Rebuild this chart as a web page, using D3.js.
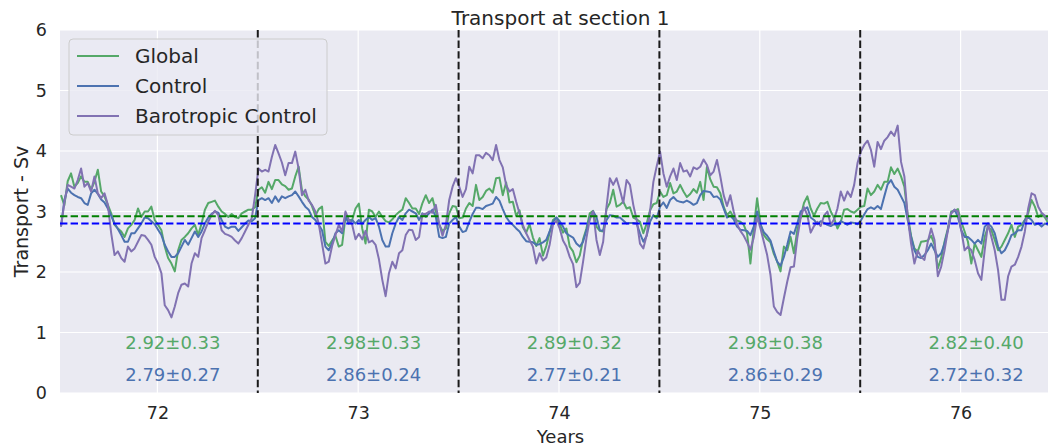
<!DOCTYPE html>
<html>
<head>
<meta charset="utf-8">
<script src="https://cdn.jsdelivr.net/npm/d3@7"></script>
<style>
  body { margin: 0; background: #fff; }
  text { font-family: "DejaVu Sans", sans-serif; fill: #262626; }
</style>
</head>
<body>
<div id="chart"></div>
<script>
// sampled every 1/60 year starting at t0
var t0 = 71.52, step = 1 / 60;

var globalV = [
  3.27,3.10,3.50,3.63,3.41,3.47,3.58,3.49,3.49,3.36,3.49,3.69,3.33,3.25,3.11,2.97,2.78,2.72,2.67,2.58,
  2.72,2.78,2.86,3.05,2.91,3.00,3.00,3.08,2.86,2.78,2.69,2.42,2.23,2.14,2.01,2.36,2.53,2.58,2.64,2.72,
  2.78,2.61,2.80,3.03,3.14,3.16,3.18,3.08,3.00,2.96,2.91,2.96,2.91,2.89,2.97,3.00,3.03,3.03,3.07,
  3.36,3.40,3.31,3.49,3.37,3.52,3.52,3.45,3.42,3.36,3.38,3.58,3.74,3.35,3.25,3.20,3.09,2.93,3.04,3.08,
  2.50,2.43,2.52,2.60,2.42,2.45,2.91,2.86,2.86,3.05,3.13,2.72,2.47,3.03,3.00,2.91,3.00,2.91,2.84,2.82,
  2.87,2.94,2.99,3.03,3.22,3.14,3.05,3.05,2.96,3.14,3.27,3.14,3.22,3.00,2.78,2.68,2.72,2.97,3.09,3.08,
  2.89,2.90,3.05,3.14,3.09,3.44,3.19,3.24,3.34,3.38,3.31,3.55,3.56,3.27,3.48,3.15,3.16,2.93,3.02,2.74,
  2.65,2.79,2.57,2.43,2.56,2.27,2.43,2.65,2.86,2.90,2.79,2.65,2.72,2.42,2.34,2.16,2.27,2.54,2.72,2.97,
  3.01,2.75,2.68,2.67,3.04,3.14,3.36,3.08,3.11,3.16,3.05,3.07,2.90,2.87,2.83,2.64,2.80,3.02,3.12,3.14,
  3.33,3.24,3.27,3.47,3.30,3.33,3.44,3.33,3.24,3.29,3.37,3.31,3.49,3.19,3.74,3.53,3.41,3.40,3.30,3.08,
  2.94,3.00,2.90,2.85,2.83,2.78,2.64,2.14,2.72,3.22,2.80,2.61,2.54,2.49,2.30,2.17,2.01,2.42,2.36,2.58,
  2.31,2.69,2.91,3.14,3.25,3.05,2.93,3.05,3.14,3.13,3.16,3.00,2.89,2.72,2.83,3.03,3.04,3.00,2.98,3.03,
  3.08,3.09,3.38,3.27,3.33,3.44,3.36,3.49,3.49,3.73,3.62,3.71,3.58,3.41,2.94,2.60,2.39,2.34,2.50,2.51,
  2.52,2.60,2.45,2.06,2.23,2.50,2.72,3.00,3.01,3.04,2.83,2.67,2.50,2.14,2.47,2.36,2.25,2.58,2.75,2.69,
  2.53,2.36,2.42,2.53,2.64,2.78,2.58,2.75,2.78,2.86,2.97,3.19,3.08,2.91,2.96,2.90,2.81
];

var controlV = [
  2.75,3.19,3.38,3.31,3.27,3.24,3.22,3.14,3.11,3.30,3.36,3.29,3.20,3.15,3.05,2.93,2.80,2.71,2.61,2.50,
  2.50,2.64,2.64,2.72,2.80,2.90,2.89,2.84,2.79,2.70,2.61,2.45,2.34,2.25,2.25,2.31,2.42,2.53,2.45,2.56,
  2.67,2.58,2.67,2.80,2.90,2.96,3.00,2.98,2.86,2.75,2.72,2.75,2.75,2.68,2.74,2.80,2.85,2.84,2.89,
  3.19,3.22,3.19,3.22,3.14,3.25,3.16,3.25,3.22,3.25,3.27,3.33,3.25,3.16,3.08,3.03,2.91,2.86,2.78,2.69,
  2.42,2.36,2.47,2.64,2.69,2.64,2.91,2.80,2.86,2.80,2.86,2.80,2.86,2.91,2.86,2.89,2.75,2.53,2.42,2.42,
  2.64,2.80,2.91,2.86,2.97,3.03,3.00,2.97,2.86,2.97,2.91,2.97,3.03,2.91,2.58,2.56,2.58,2.80,2.86,2.91,
  2.75,2.66,2.68,2.83,2.96,3.06,3.06,3.04,3.09,3.11,3.13,3.24,3.18,3.04,2.91,2.83,2.78,2.72,2.67,2.58,
  2.51,2.50,2.49,2.45,2.46,2.49,2.53,2.67,2.83,2.90,2.84,2.75,2.64,2.60,2.57,2.47,2.42,2.50,2.69,2.89,
  3.00,2.91,2.69,2.68,2.86,2.94,2.93,2.90,2.90,2.85,2.80,2.81,2.81,2.80,2.64,2.50,2.60,2.83,2.94,2.89,
  3.08,3.15,3.06,3.19,3.24,3.18,3.16,3.15,3.18,3.15,3.11,3.14,3.27,3.34,3.33,3.32,3.24,3.25,3.20,3.05,
  2.90,2.93,2.87,2.75,2.70,2.69,2.68,2.61,2.75,3.00,2.78,2.66,2.60,2.52,2.34,2.17,2.10,2.25,2.45,2.67,
  2.63,2.80,3.00,3.03,3.07,2.90,2.86,2.79,2.84,2.81,2.78,2.76,2.79,2.78,2.84,2.81,2.78,2.82,2.81,2.79,
  2.85,2.95,3.04,3.07,3.04,3.09,3.04,3.25,3.45,3.52,3.41,3.36,3.25,3.14,2.86,2.58,2.36,2.25,2.23,2.28,
  2.36,2.47,2.36,2.25,2.31,2.47,2.69,2.97,3.03,2.91,2.69,2.58,2.58,2.53,2.47,2.53,2.47,2.75,2.80,2.75,
  2.64,2.42,2.31,2.36,2.47,2.61,2.64,2.69,2.69,2.86,2.91,2.86,2.78,2.80,2.75,2.80,2.78
];

var baroV = [
  2.75,3.14,3.44,3.41,3.38,3.52,3.71,3.41,3.47,3.33,3.58,3.30,3.22,3.30,3.11,2.64,2.28,2.34,2.23,2.17,
  2.42,2.34,2.39,2.50,2.61,2.60,2.53,2.45,2.25,2.14,1.98,1.45,1.37,1.25,1.43,1.65,1.79,1.81,1.76,2.14,
  2.31,2.25,2.56,2.69,2.83,2.94,3.01,2.94,2.69,2.63,2.61,2.58,2.52,2.47,2.56,2.67,2.78,2.89,3.27,
  3.71,3.66,3.69,3.66,3.90,4.10,3.96,3.81,3.60,3.80,3.80,3.99,3.71,3.27,3.36,3.18,3.11,3.00,2.80,2.47,
  2.14,2.17,2.43,2.61,2.78,2.67,3.00,2.86,2.78,2.54,2.63,2.54,2.68,2.49,2.52,2.45,2.21,1.87,1.60,1.98,
  2.17,2.06,2.31,2.36,2.61,2.70,2.69,2.53,2.58,2.96,2.96,3.00,2.98,3.11,2.80,2.60,2.78,3.19,3.41,3.55,
  3.41,3.24,3.37,3.74,3.63,3.93,3.93,3.88,3.97,3.93,3.85,4.10,3.85,3.73,3.44,3.33,3.37,3.16,2.97,2.78,
  2.64,2.53,2.42,2.14,2.31,2.19,2.24,2.45,2.78,2.85,2.72,2.52,2.42,2.25,2.13,1.75,1.82,2.17,2.56,2.87,
  3.00,2.53,2.28,2.50,3.08,3.55,3.44,3.55,3.36,3.14,3.52,3.44,3.11,2.86,2.47,2.39,2.61,3.00,3.49,3.75,
  3.99,3.63,3.41,3.58,3.71,3.52,3.80,3.66,3.68,3.58,3.73,3.70,3.74,3.86,3.77,3.60,3.66,3.85,3.58,3.27,
  3.09,3.27,3.00,2.79,2.68,2.60,2.49,2.37,2.57,2.91,2.72,2.50,2.28,1.95,1.43,1.34,1.29,1.57,1.84,2.08,
  2.09,2.56,2.89,3.07,2.94,2.65,2.76,2.83,2.76,2.93,3.00,2.78,2.87,3.05,3.33,3.18,3.33,3.24,3.44,3.80,
  3.99,4.10,4.17,4.02,3.74,4.15,4.03,4.17,4.23,4.32,4.25,4.42,3.82,3.58,2.91,2.47,2.14,2.35,2.25,2.20,
  2.50,2.72,2.53,1.93,2.09,2.36,2.69,2.97,3.03,3.00,2.69,2.36,2.42,2.36,2.20,1.98,1.87,2.36,2.80,2.58,
  2.36,2.03,1.54,1.54,1.93,2.09,2.12,2.25,2.42,2.67,3.05,3.30,3.27,3.08,2.98,2.93,2.87
];

var years = [72, 73, 74, 75, 76];
var separators = [72.5, 73.5, 74.5, 75.5];
var statsGlobal = ['2.92±0.33', '2.98±0.33', '2.89±0.32', '2.98±0.38', '2.82±0.40'];
var statsControl = ['2.79±0.27', '2.86±0.24', '2.77±0.21', '2.86±0.29', '2.72±0.32'];
var meanGlobal = 2.92, meanControl = 2.80;
var yTicks = [0, 1, 2, 3, 4, 5, 6];

var series = [
  { name: 'Global', values: globalV, color: '#55a868' },
  { name: 'Control', values: controlV, color: '#4c72b0' },
  { name: 'Barotropic Control', values: baroV, color: '#8172b2' }
];

var W = 1048, H = 446,
    pL = 60, pR = 1061, pT = 30, pB = 393;

var x = d3.scaleLinear().domain([71.515, 76.5]).range([pL, pR]);
var y = d3.scaleLinear().domain([0, 6]).range([pB, pT]);

var svg = d3.select('#chart').append('svg')
    .attr('width', W)
    .attr('height', H);

svg.append('defs').append('clipPath').attr('id', 'plot')
  .append('rect')
    .attr('x', pL).attr('y', pT)
    .attr('width', pR - pL).attr('height', pB - pT);

svg.append('rect')
    .attr('x', pL).attr('y', pT)
    .attr('width', pR - pL).attr('height', pB - pT)
    .attr('fill', '#eaeaf2');

// grid
svg.append('g').selectAll('line').data(yTicks).enter().append('line')
    .attr('x1', pL).attr('x2', pR)
    .attr('y1', function(d){ return y(d); })
    .attr('y2', function(d){ return y(d); })
    .attr('stroke', '#fff').attr('stroke-width', 1.2);

svg.append('g').selectAll('line').data(years).enter().append('line')
    .attr('x1', function(d){ return x(d); })
    .attr('x2', function(d){ return x(d); })
    .attr('y1', pT).attr('y2', pB)
    .attr('stroke', '#fff').attr('stroke-width', 1.2);

// axes
svg.append('g')
    .attr('transform', 'translate(0,' + pB + ')')
    .call(d3.axisBottom(x).tickValues(years).tickFormat(d3.format('d')).tickSize(0).tickPadding(14));
svg.append('g')
    .attr('transform', 'translate(' + pL + ',0)')
    .call(d3.axisLeft(y).tickValues(yTicks).tickFormat(d3.format('d')).tickSize(0).tickPadding(13));

svg.selectAll('.domain').remove();
svg.selectAll('.tick text')
    .attr('font-size', '17.5px')
    .attr('font-family', '"DejaVu Sans", sans-serif')
    .attr('fill', '#262626');

// series
var line = d3.line()
    .x(function(d, i){ return x(t0 + i * step); })
    .y(function(d){ return y(d); });

var plot = svg.append('g').attr('clip-path', 'url(#plot)');

plot.selectAll('path.series').data(series).enter().append('path')
    .attr('class', 'series')
    .attr('d', function(d){ return line(d.values); })
    .attr('fill', 'none')
    .attr('stroke', function(d){ return d.color; })
    .attr('stroke-width', 2)
    .attr('stroke-linejoin', 'round');

// means
plot.selectAll('line.mean').data([[meanGlobal, '#008000'], [meanControl, '#0000ff']])
  .enter().append('line')
    .attr('class', 'mean')
    .attr('x1', pL).attr('x2', pR)
    .attr('y1', function(d){ return y(d[0]); })
    .attr('y2', function(d){ return y(d[0]); })
    .attr('stroke', function(d){ return d[1]; })
    .attr('stroke-width', 2)
    .attr('stroke-dasharray', '7.4,3.2');

// year separators
plot.selectAll('line.sep').data(separators).enter().append('line')
    .attr('class', 'sep')
    .attr('x1', function(d){ return x(d); })
    .attr('x2', function(d){ return x(d); })
    .attr('y1', pT).attr('y2', pB)
    .attr('stroke', '#1a1a1a')
    .attr('stroke-width', 2)
    .attr('stroke-dasharray', '7.4,3.2');

// per-year stats
var stats = svg.append('g').attr('font-size', '18px').attr('text-anchor', 'middle');
stats.selectAll('text.g').data(statsGlobal).enter().append('text')
    .attr('class', 'g')
    .attr('x', function(d, i){ return x(years[i] + 0.077); })
    .attr('y', y(0.83))
    .attr('dy', '0.36em')
    .style('fill', '#55a868')
    .text(function(d){ return d; });
stats.selectAll('text.c').data(statsControl).enter().append('text')
    .attr('class', 'c')
    .attr('x', function(d, i){ return x(years[i] + 0.077); })
    .attr('y', y(0.31))
    .attr('dy', '0.36em')
    .style('fill', '#4c72b0')
    .text(function(d){ return d; });

// labels
var mid = (pL + pR) / 2;
svg.append('text')
    .attr('x', mid).attr('y', 25)
    .attr('text-anchor', 'middle')
    .attr('font-size', '20px')
    .text('Transport at section 1');

svg.append('text')
    .attr('x', mid).attr('y', 443)
    .attr('text-anchor', 'middle')
    .attr('font-size', '18px')
    .text('Years');

svg.append('text')
    .attr('transform', 'translate(28,' + ((pT + pB) / 2) + ') rotate(-90)')
    .attr('text-anchor', 'middle')
    .attr('font-size', '19px')
    .text('Transport - Sv');

// legend
var legend = svg.append('g');
legend.append('rect')
    .attr('x', 69).attr('y', 39)
    .attr('width', 258).attr('height', 96)
    .attr('rx', 4)
    .attr('fill', '#eaeaf2').attr('fill-opacity', 0.8)
    .attr('stroke', '#cccccc').attr('stroke-width', 1);

var item = legend.selectAll('g.item').data(series).enter().append('g')
    .attr('class', 'item')
    .attr('transform', function(d, i){ return 'translate(0,' + (56 + i * 30) + ')'; });
item.append('line')
    .attr('x1', 77).attr('x2', 119)
    .attr('stroke', function(d){ return d.color; })
    .attr('stroke-width', 2);
item.append('text')
    .attr('x', 135).attr('dy', '0.36em')
    .attr('font-size', '20px')
    .text(function(d){ return d.name; });
</script>
</body>
</html>
